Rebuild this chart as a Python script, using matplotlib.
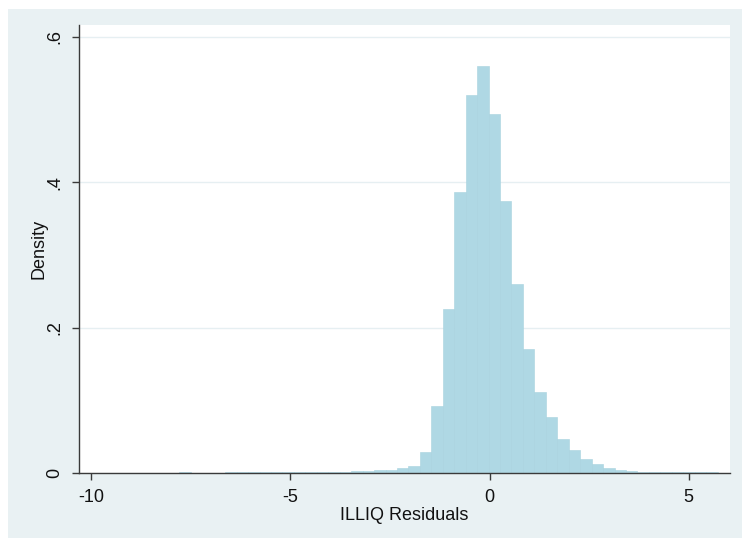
import numpy as np
import matplotlib
matplotlib.use("Agg")
from matplotlib import pyplot as plt
from matplotlib.patches import Rectangle

# histogram of ILLIQ residuals: 47 equal-width bins between min and max
bin_lo = -7.79
bin_hi = 5.73
density = [
    0.0012, 0.0, 0.0, 0.0, 0.0008, 0.0008, 0.0009, 0.0009, 0.0010, 0.0010,
    0.0011, 0.0012, 0.0014, 0.0016, 0.0019, 0.0022, 0.0026, 0.0035, 0.0045, 0.0066,
    0.0098, 0.029, 0.092, 0.226, 0.386, 0.520, 0.559, 0.494, 0.374, 0.260,
    0.171, 0.111, 0.077, 0.047, 0.031, 0.0198, 0.0118, 0.0072, 0.0043, 0.0027,
    0.0017, 0.0013, 0.0011, 0.0009, 0.0008, 0.0007, 0.0007,
]
xticks = [-10, -5, 0, 5]
xticklabels = ["-10", "-5", "0", "5"]
yticks = [0, 0.2, 0.4, 0.6]
yticklabels = ["0", ".2", ".4", ".6"]

plt.rcParams["font.family"] = ["Liberation Sans", "DejaVu Sans"]

BG = "#e9f1f3"
BAR = "#afd8e4"
AXC = "#3a3a3a"

fig = plt.figure(figsize=(7.42, 5.38), dpi=100)
fig.patches.append(Rectangle((8 / 742, 0), 1, 1 - 9 / 538, transform=fig.transFigure,
                             facecolor=BG, edgecolor="none", zorder=-10))
ax = fig.add_axes([79 / 742, 1 - 473 / 538, (730 - 79) / 742, (473 - 25) / 538])
ax.set_facecolor("white")

edges = np.linspace(bin_lo, bin_hi, len(density) + 1)
ax.bar(edges[:-1], density, width=np.diff(edges), align="edge",
       color=BAR, edgecolor="#a8d2df", linewidth=0.4, zorder=2)

ax.set_xlim(-10.31, 6.04)
ax.set_ylim(0, 0.616)
ax.set_xticks(xticks)
ax.set_xticklabels(xticklabels)
ax.set_yticks(yticks)
ax.set_yticklabels(yticklabels, rotation=90, va="center")
ax.yaxis.grid(True, color="#e6eff2", linewidth=1.0, zorder=0)
ax.set_axisbelow(True)

for side in ("top", "right"):
    ax.spines[side].set_visible(False)
for side in ("left", "bottom"):
    ax.spines[side].set_color(AXC)
    ax.spines[side].set_linewidth(1.0)
ax.tick_params(axis="both", direction="out", length=5, width=1.0, color=AXC,
               labelsize=13, pad=6.5, labelcolor="#111111")

ax.set_xlabel("ILLIQ Residuals", fontsize=13, color="#111111", labelpad=1)
ax.set_ylabel("Density", fontsize=13, color="#111111", labelpad=-1)

plt.savefig("out.png", dpi=100)
